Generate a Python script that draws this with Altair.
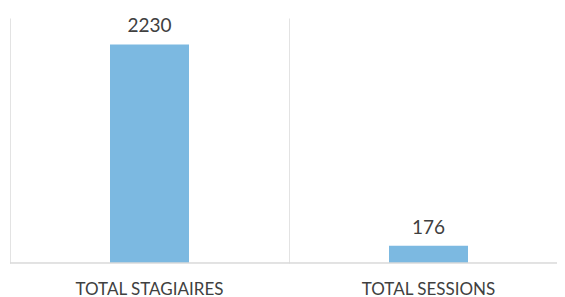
import altair as alt
import pandas as pd

categories = ["TOTAL STAGIAIRES", "TOTAL SESSIONS"]
values = [2230, 176]

df = pd.DataFrame({"cat": categories, "val": values})

FONT = "Lato"
TXT = "#404040"

x_enc = alt.X(
    "cat:N",
    sort=categories,
    title=None,
    scale=alt.Scale(range=[0, 558], paddingInner=0, paddingOuter=0),
    axis=alt.Axis(
        labelAngle=0,
        labelFont=FONT,
        labelFontSize=17,
        labelColor=TXT,
        labelPadding=18,
        ticks=False,
        grid=True,
        gridColor="#e3e3e3",
        gridWidth=1,
        bandPosition=0,
        domain=False,
    ),
)
y_enc = alt.Y("val:Q", scale=alt.Scale(domain=[0, 2500]), axis=None)

base = alt.Chart(df)

bars = base.mark_bar(size=79, color="#7CB9E1").encode(x=x_enc, y=y_enc)
labels = base.mark_text(
    baseline="alphabetic", dy=-12, font=FONT, fontSize=19, color=TXT
).encode(x=x_enc, y=y_enc, text="val:Q")
baseline = base.mark_rule(color="#d9d9d9", strokeWidth=1).encode(
    x=alt.value(0), x2=alt.value(570), y=alt.value(245)
)

chart = (
    alt.layer(bars, labels, baseline)
    .properties(
        width=547,
        height=245,
        autosize=alt.AutoSizeParams(type="none"),
        padding={"left": 2, "right": 0, "top": 10, "bottom": 40},
    )
    .configure_view(stroke=None)
)

chart.save("out.html", embed_options={"renderer": "svg", "actions": False})
